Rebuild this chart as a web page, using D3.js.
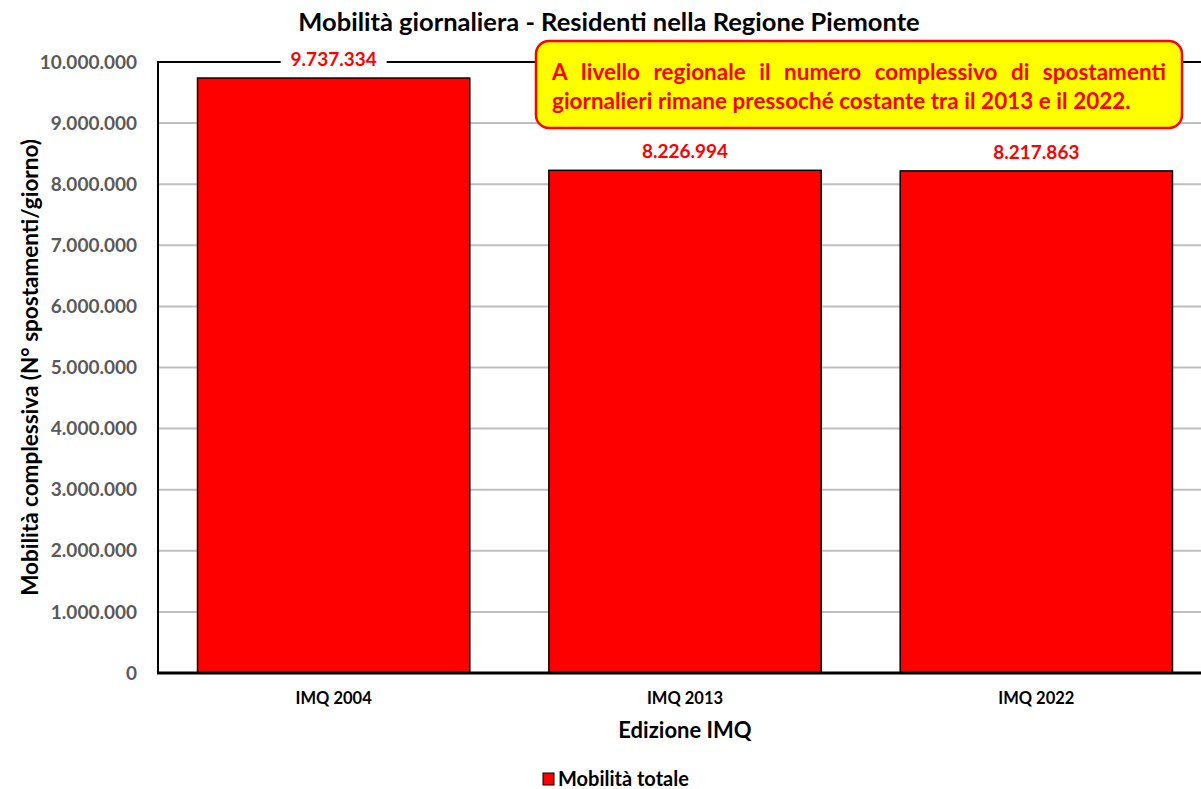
<!DOCTYPE html>
<html>
<head>
<meta charset="utf-8">
<script src="https://cdn.jsdelivr.net/npm/d3@7"></script>
<style>
  body { margin: 0; background: white; }
  text { font-family: Lato, 'Open Sans', sans-serif; font-weight: bold; }
</style>
</head>
<body>
<svg id="chart" width="1201" height="789"></svg>
<script>
/* DATA */
const editions = ['IMQ 2004', 'IMQ 2013', 'IMQ 2022']
const totals = [9737334, 8226994, 8217863]
const yTicks = [0, 1000000, 2000000, 3000000, 4000000, 5000000, 6000000, 7000000, 8000000, 9000000, 10000000]
const seriesName = 'Mobilità totale'
const chartTitle = 'Mobilità giornaliera - Residenti nella Regione Piemonte'
const yTitle = 'Mobilità complessiva (N° spostamenti/giorno)'
const xTitle = 'Edizione IMQ'
const noteLines = [
  'A livello regionale il numero complessivo di spostamenti',
  'giornalieri rimane pressoché costante tra il 2013 e il 2022.'
]

/* COLOURS */
const barRed = '#ff0000'
const gridGrey = '#bfbfbf'
const tickGrey = '#595959'
const noteYellow = '#ffff00'

const itLocale = d3.formatLocale({ decimal: ',', thousands: '.', grouping: [3], currency: ['', '€'] })
const fmt = itLocale.format(',d')

const svg = d3.select('#chart')
const plotLeft = 158, plotRight = 1212, plotTop = 62, plotBottom = 673

const x = d3.scaleBand()
  .domain(editions)
  .range([plotLeft, plotRight])
  .paddingInner(0.225)
  .paddingOuter(0.1125)

const y = d3.scaleLinear()
  .domain([0, 10000000])
  .range([plotBottom, plotTop])

// Gridlines
svg.append('g')
  .selectAll('line')
  .data(yTicks.slice(1, -1))
  .join('line')
    .attr('x1', plotLeft)
    .attr('x2', plotRight)
    .attr('y1', d => y(d))
    .attr('y2', d => y(d))
    .attr('stroke', gridGrey)
    .attr('stroke-width', 2)

// Plot frame: top + left
svg.append('line')
  .attr('x1', plotLeft).attr('x2', plotRight)
  .attr('y1', y(10000000)).attr('y2', y(10000000))
  .attr('stroke', 'black').attr('stroke-width', 2)
svg.append('line')
  .attr('x1', plotLeft).attr('x2', plotLeft)
  .attr('y1', y(10000000) - 1).attr('y2', plotBottom)
  .attr('stroke', 'black').attr('stroke-width', 2)

// Bars
svg.append('g')
  .selectAll('rect')
  .data(totals)
  .join('rect')
    .attr('x', (d, i) => x(editions[i]))
    .attr('y', d => y(d))
    .attr('width', x.bandwidth())
    .attr('height', d => y(0) - y(d))
    .attr('fill', barRed)
    .attr('stroke', 'black')
    .attr('stroke-width', 1.5)

// Bottom axis line
svg.append('line')
  .attr('x1', plotLeft - 1).attr('x2', plotRight)
  .attr('y1', plotBottom).attr('y2', plotBottom)
  .attr('stroke', 'black').attr('stroke-width', 3)

// Y tick labels
svg.append('g')
  .selectAll('text')
  .data(yTicks)
  .join('text')
    .attr('x', plotLeft - 21)
    .attr('y', d => y(d))
    .attr('dy', '0.35em')
    .attr('text-anchor', 'end')
    .attr('font-size', 19)
    .attr('fill', tickGrey)
    .text(d => fmt(d))

// X tick labels
svg.append('g')
  .selectAll('text')
  .data(editions)
  .join('text')
    .attr('x', d => x(d) + x.bandwidth() / 2)
    .attr('y', plotBottom + 25)
    .attr('dy', '0.35em')
    .attr('text-anchor', 'middle')
    .attr('font-size', 16.5)
    .attr('fill', 'black')
    .text(d => d)

// Value labels with white background
const labels = svg.append('g')
  .selectAll('g')
  .data(totals)
  .join('g')
    .attr('transform', (d, i) => `translate(${x(editions[i]) + x.bandwidth() / 2},${y(d) - 19})`)
labels.append('rect')
  .attr('x', -53).attr('y', -11)
  .attr('width', 106).attr('height', 22)
  .attr('fill', 'white')
labels.append('text')
  .attr('text-anchor', 'middle')
  .attr('dy', '0.35em')
  .attr('font-size', 19)
  .attr('fill', barRed)
  .text(d => fmt(d))

// Title
svg.append('text')
  .attr('x', 609).attr('y', 22)
  .attr('dy', '0.35em')
  .attr('text-anchor', 'middle')
  .attr('font-size', 25.5)
  .text(chartTitle)

// Axis titles
svg.append('text')
  .attr('transform', `translate(30,${(plotTop + plotBottom) / 2}) rotate(-90)`)
  .attr('dy', '0.35em')
  .attr('text-anchor', 'middle')
  .attr('font-size', 22.5)
  .text(yTitle)

svg.append('text')
  .attr('x', x(editions[1]) + x.bandwidth() / 2)
  .attr('y', 730)
  .attr('dy', '0.35em')
  .attr('text-anchor', 'middle')
  .attr('font-size', 22)
  .text(xTitle)

// Legend
const legend = svg.append('g').attr('transform', 'translate(543,779)')
legend.append('rect')
  .attr('x', 0).attr('y', -6)
  .attr('width', 11).attr('height', 12)
  .attr('fill', barRed).attr('stroke', 'black').attr('stroke-width', 1)
legend.append('text')
  .attr('x', 15)
  .attr('dy', '0.35em')
  .attr('font-size', 20)
  .text(seriesName)

// Annotation box
const note = svg.append('g')
note.append('rect')
  .attr('x', 536).attr('y', 41)
  .attr('width', 646).attr('height', 87)
  .attr('rx', 13)
  .attr('fill', noteYellow)
  .attr('stroke', barRed)
  .attr('stroke-width', 2.5)

const noteLeft = 552, noteRight = 1166
noteLines.forEach((line, li) => {
  const ly = 72 + li * 29
  const words = line.split(' ')
  const g = note.append('g')
  const nodes = words.map(w => g.append('text')
    .attr('y', ly)
    .attr('dy', '0.35em')
    .attr('font-size', 22.5)
    .attr('fill', barRed)
    .text(w))
  const widths = nodes.map(n => n.node().getComputedTextLength())
  const total = d3.sum(widths)
  const last = li === noteLines.length - 1
  const gap = last ? 5.5 : (noteRight - noteLeft - total) / (words.length - 1)
  let cx = noteLeft
  nodes.forEach((n, i) => {
    n.attr('x', cx)
    cx += widths[i] + gap
  })
})
</script>
</body>
</html>
